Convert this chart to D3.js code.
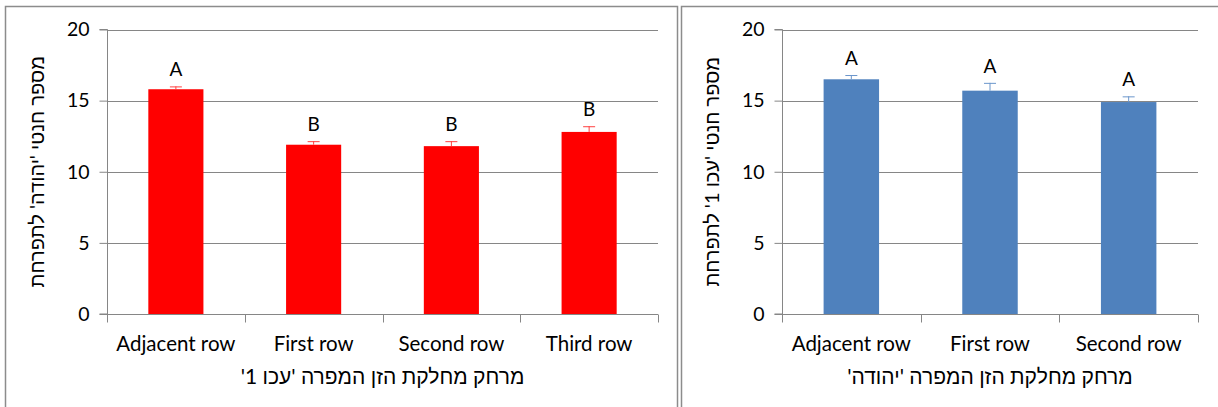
<!DOCTYPE html>
<html>
<head>
<meta charset="utf-8">
<script src="https://cdn.jsdelivr.net/npm/d3@7"></script>
<style>
  html, body { margin: 0; padding: 0; background: #fff; }
  svg { display: block; }
  text { font-family: Lato, "Liberation Sans", "DejaVu Sans", sans-serif; fill: #000; }
</style>
</head>
<body>
<svg id="chart" width="1218" height="407"></svg>
<script>
// Fruit set per inflorescence by distance from the pollinizer row
const categoriesA = ["Adjacent row", "First row", "Second row", "Third row"];
const meansA = [15.8, 11.9, 11.8, 12.8];
const errorsA = [0.2, 0.25, 0.35, 0.4];
const lettersA = ["A", "B", "B", "B"];

const categoriesB = ["Adjacent row", "First row", "Second row"];
const meansB = [16.5, 15.7, 14.9];
const errorsB = [0.3, 0.55, 0.4];
const lettersB = ["A", "A", "A"];

const yTicks = [0, 5, 10, 15, 20];

const titleYA = "מספר חנטי 'יהודה' לתפרחת";
const titleXA = "מרחק מחלקת הזן המפרה 'עכו 1'";
const titleYB = "מספר חנטי 'עכו 1' לתפרחת";
const titleXB = "מרחק מחלקת הזן המפרה 'יהודה'";

const svg = d3.select("#chart");
const gridColor = "#868686";

function panel(opts) {
  const { frame, plot, categories, means, errors, letters, fill, errColor, titleY, titleX } = opts;

  // chart frame
  svg.append("rect")
    .attr("x", frame.x).attr("y", frame.y)
    .attr("width", frame.w).attr("height", frame.h)
    .attr("fill", "#fff").attr("stroke", "#8c8c8c").attr("stroke-width", 1.5);

  const x = d3.scaleBand().domain(categories).range([plot.left, plot.right]).paddingInner(0.6).paddingOuter(0.3);
  const xOuter = d3.scaleBand().domain(categories).range([plot.left, plot.right]);
  const y = d3.scaleLinear().domain([0, 20]).range([plot.bottom, plot.top]);

  const g = svg.append("g");

  // horizontal gridlines
  g.selectAll("line.grid").data(yTicks.filter(d => d > 0)).join("line")
    .attr("class", "grid")
    .attr("x1", plot.left).attr("x2", plot.right)
    .attr("y1", d => Math.round(y(d)) + 0.5).attr("y2", d => Math.round(y(d)) + 0.5)
    .attr("stroke", gridColor).attr("stroke-width", 1);

  // bars
  g.selectAll("rect.bar").data(categories).join("rect")
    .attr("class", "bar")
    .attr("x", d => x(d))
    .attr("width", x.bandwidth())
    .attr("y", (d, i) => y(means[i]))
    .attr("height", (d, i) => y(0) - y(means[i]))
    .attr("fill", fill);

  // error bars (upper only)
  const eb = g.selectAll("g.err").data(categories).join("g").attr("class", "err");
  eb.append("line")
    .attr("x1", d => x(d) + x.bandwidth() / 2).attr("x2", d => x(d) + x.bandwidth() / 2)
    .attr("y1", (d, i) => y(means[i])).attr("y2", (d, i) => y(means[i] + errors[i]))
    .attr("stroke", errColor).attr("stroke-width", 1);
  eb.append("line")
    .attr("x1", d => x(d) + x.bandwidth() / 2 - 6).attr("x2", d => x(d) + x.bandwidth() / 2 + 6)
    .attr("y1", (d, i) => y(means[i] + errors[i]) + 0.5).attr("y2", (d, i) => y(means[i] + errors[i]) + 0.5)
    .attr("stroke", errColor).attr("stroke-width", 1);

  // significance letters
  g.selectAll("text.letter").data(categories).join("text")
    .attr("class", "letter")
    .attr("x", d => x(d) + x.bandwidth() / 2)
    .attr("y", (d, i) => y(means[i] + errors[i]) - 10)
    .attr("text-anchor", "middle")
    .attr("font-size", 19)
    .text((d, i) => letters[i]);

  // y axis
  const yAxis = d3.axisLeft(y).tickValues(yTicks).tickSize(8).tickPadding(10).tickFormat(d3.format("d"));
  const ya = g.append("g").attr("transform", `translate(${plot.left + 0.5},0)`).call(yAxis);
  ya.select(".domain").attr("stroke", gridColor).attr("d", `M-8,${plot.bottom}H0V${plot.top}H-8`);
  ya.selectAll(".tick line").attr("stroke", gridColor);
  ya.selectAll(".tick text").attr("font-size", 19.5).attr("font-family", null);

  // x axis with boundary ticks between categories
  const xa = g.append("g").attr("transform", `translate(0,${plot.bottom + 0.5})`);
  xa.append("line").attr("x1", plot.left).attr("x2", plot.right).attr("stroke", gridColor);
  const bounds = categories.map(d => xOuter(d)).concat([plot.right]);
  xa.selectAll("line.xt").data(bounds).join("line").attr("class", "xt")
    .attr("x1", d => Math.round(d) + 0.5).attr("x2", d => Math.round(d) + 0.5)
    .attr("y1", 0).attr("y2", 8).attr("stroke", gridColor);
  xa.selectAll("text").data(categories).join("text")
    .attr("x", d => xOuter(d) + xOuter.bandwidth() / 2)
    .attr("y", 36)
    .attr("text-anchor", "middle")
    .attr("font-size", 20.5)
    .text(d => d);

  // axis titles
  svg.append("text")
    .attr("x", (plot.left + plot.right) / 2).attr("y", plot.bottom + 70)
    .attr("text-anchor", "middle").attr("direction", "rtl")
    .attr("font-size", 21)
    .text(titleX);
  svg.append("text")
    .attr("transform", `translate(${plot.left - 63},${(plot.top + plot.bottom) / 2}) rotate(-90)`)
    .attr("text-anchor", "middle").attr("direction", "rtl")
    .attr("font-size", 20)
    .text(titleY);
}

panel({
  frame: { x: 5.5, y: 6.5, w: 672, h: 420 },
  plot: { left: 107, right: 658, top: 29.5, bottom: 314 },
  categories: categoriesA, means: meansA, errors: errorsA, letters: lettersA,
  fill: "#ff0000", errColor: "#ff4040",
  titleY: titleYA, titleX: titleXA
});

panel({
  frame: { x: 681.5, y: 6.5, w: 560, h: 420 },
  plot: { left: 782, right: 1198, top: 29.5, bottom: 314 },
  categories: categoriesB, means: meansB, errors: errorsB, letters: lettersB,
  fill: "#4f81bd", errColor: "#6b96cc",
  titleY: titleYB, titleX: titleXB
});
</script>
</body>
</html>
